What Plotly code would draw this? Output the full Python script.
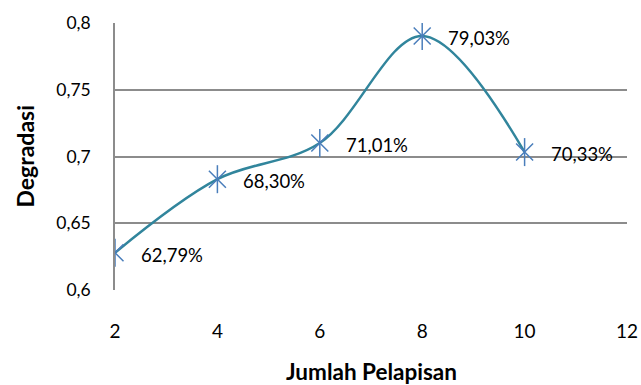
import plotly.graph_objects as go

layers = [2, 4, 6, 8, 10]
degradasi = [0.6279, 0.6830, 0.7101, 0.7903, 0.7033]
labels = ["62,79%", "68,30%", "71,01%", "79,03%", "70,33%"]
x_ticks = [2, 4, 6, 8, 10, 12]
y_ticks = [0.6, 0.65, 0.7, 0.75, 0.8]

FONT = "Lato"
line_col = "#31859C"
mark_col = "#4A7EBB"

fig = go.Figure()
fig.add_trace(go.Scatter(x=layers, y=degradasi, mode="lines",
                         line=dict(color=line_col, width=2.5, shape="spline", smoothing=1.0),
                         hoverinfo="skip", showlegend=False))
fig.add_trace(go.Scatter(x=layers, y=degradasi, mode="markers",
                         marker=dict(symbol="x-thin-open", size=17, color=mark_col,
                                     line=dict(color=mark_col, width=1.5)),
                         showlegend=False))
fig.add_trace(go.Scatter(x=layers, y=degradasi, mode="markers",
                         marker=dict(symbol="line-ns-open", size=20, color=mark_col,
                                     line=dict(color=mark_col, width=1.5)),
                         showlegend=False))

for xv, yv, t in zip(layers, degradasi, labels):
    fig.add_annotation(x=xv, y=yv, text=t, showarrow=False, xanchor="left",
                       yanchor="middle", xshift=24, yshift=-2,
                       font=dict(family=FONT, size=18.5, color="#000000"))

# axis titles
fig.add_annotation(x=0.5, y=0, xref="paper", yref="paper", text="<b>Jumlah Pelapisan</b>",
                   showarrow=False, xanchor="center", yanchor="middle", yshift=-81,
                   font=dict(family=FONT, size=22.5, color="#000000"))
fig.add_annotation(x=0, y=0.5, xref="paper", yref="paper", text="<b>Degradasi</b>",
                   showarrow=False, xanchor="center", yanchor="middle", xshift=-91,
                   textangle=-90, font=dict(family=FONT, size=23, color="#000000"))

fig.update_layout(
    width=641, height=385,
    margin=dict(l=115, r=14, t=23, b=95),
    paper_bgcolor="white", plot_bgcolor="white",
    separators=",.",
    font=dict(family=FONT, color="#000000"),
    showlegend=False,
)
fig.update_xaxes(range=[2, 12], tickvals=x_ticks, showgrid=False, zeroline=False,
                 showline=False, ticks="", ticklabelstandoff=28, automargin=False,
                 tickfont=dict(family=FONT, size=19))
fig.update_yaxes(range=[0.6, 0.8], tickvals=y_ticks, showgrid=True, gridcolor="#8C8C8C", gridwidth=1.5,
                 zeroline=False, showline=True, linecolor="#8C8C8C", linewidth=1.5, ticks="",
                 ticklabelstandoff=19, automargin=False,
                 tickfont=dict(family=FONT, size=17.5))

fig.write_html("out.html", config={"displayModeBar": False},
               post_script="document.body.style.margin='0';document.body.style.overflow='hidden';")
